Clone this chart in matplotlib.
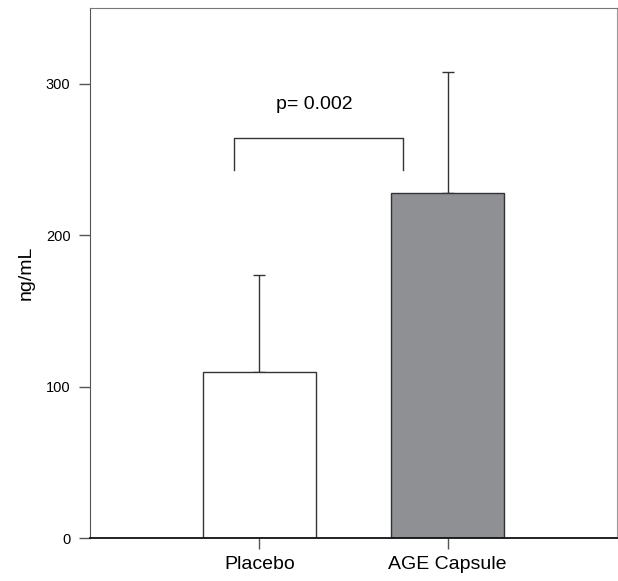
import matplotlib
matplotlib.use("Agg")
from matplotlib import pyplot as plt

# data
groups = ['Placebo', 'AGE Capsule']
means = [109.5, 228]
errors = [64.5, 79.5]
colors = ['white', '#8f9094']
p_text = 'p= 0.002'

plt.rcParams['font.family'] = ['Liberation Sans', 'DejaVu Sans']

fig = plt.figure(figsize=(6.18, 5.81), dpi=100)
ax = fig.add_axes([90 / 618, 43 / 581, 527 / 618, 530 / 581])

pos = [1, 2]
ax.bar(pos, means, width=0.6, color=colors, edgecolor='#333333', linewidth=1.0, zorder=2)
ax.errorbar(pos, means, yerr=[[0, 0], errors], fmt='none', ecolor='#333333',
            elinewidth=1.0, capsize=4, capthick=1.0, zorder=1)

# significance bracket
ax.plot([0.863, 0.863, 1.762, 1.762], [243, 264.3, 264.3, 243], color='#333333', lw=1.0)
ax.text(1.29, 283, p_text, ha='center', va='baseline', fontsize=14)

ax.set_xlim(0.1, 2.9)
ax.set_ylim(0, 350)
ax.set_xticks(pos)
ax.set_xticklabels(groups, fontsize=14)
ax.set_yticks([0, 100, 200, 300])
ax.tick_params(axis='y', labelsize=10.5, length=8, color='#555555', width=1, pad=6)
ax.tick_params(axis='x', length=8, color='#555555', width=1, pad=5)
ax.set_ylabel('ng/mL', fontsize=14, labelpad=8)

ax.spines['left'].set_color('#555555')
ax.spines['top'].set_color('#777777')
ax.spines['right'].set_color('#999999')
ax.spines['bottom'].set_color('#111111')
ax.spines['bottom'].set_linewidth(1.3)

plt.savefig('out.png', dpi=100)
